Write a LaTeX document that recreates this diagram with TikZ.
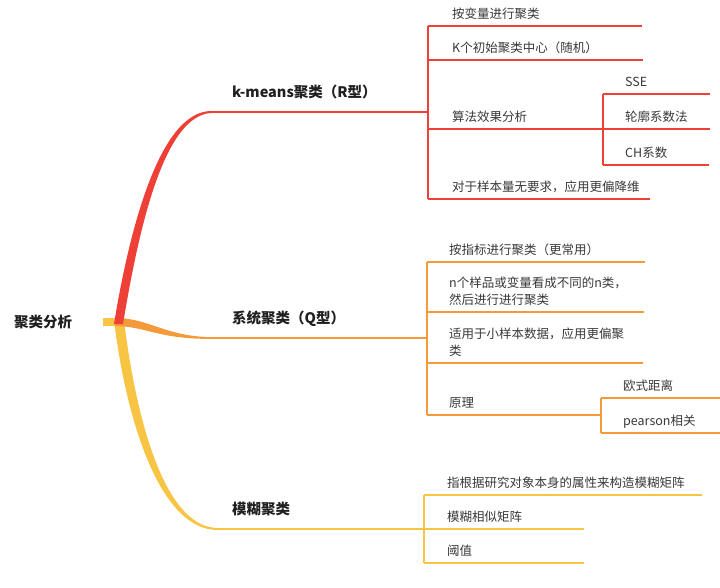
\documentclass[tikz,border=0pt]{standalone}
\usepackage{fontspec}
\setmainfont{Noto Sans CJK SC}
\usetikzlibrary{calc}

\definecolor{kred}{HTML}{EE4036}
\definecolor{sorange}{HTML}{F59A3A}
\definecolor{fyellow}{HTML}{F8C443}
\definecolor{leaftxt}{HTML}{383838}

\begin{document}
\begin{tikzpicture}[x=1pt, y=-1pt,
  leaf/.style={anchor=south west, inner xsep=0pt, inner ysep=6.2pt, text depth=1.5pt,
    align=left, text=leaftxt, font=\fontsize{12.5}{17}\selectfont},
  topic/.style={anchor=south west, inner xsep=0pt, inner ysep=12.5pt, text depth=2pt,
    text=black!88, font=\fontsize{14.5}{17}\selectfont\bfseries},
  kline/.style={draw=kred, line width=1.8pt},
  sline/.style={draw=sorange, line width=1.8pt},
  fline/.style={draw=fyellow, line width=1.8pt}]
\useasboundingbox (0,0) rectangle (720,588);

% Root and main topics
\node[anchor=west, inner sep=0pt, text=black!88, font=\fontsize{14.5}{17}\selectfont\bfseries] (root) at (14,322) {聚类分析};
\coordinate (hub) at (119,322);
\node[topic] (km) at (232,112) {k-means聚类（R型）};
\node[topic] (sys) at (232,338) {系统聚类（Q型）};
\node[topic] (fz) at (232,529) {模糊聚类};
\coordinate (km-s) at (212,112);
\coordinate (sys-s) at (215,338);
\coordinate (fz-s) at (218,529);

% Tapered branches from the root
\fill[fyellow] ($(hub)+(-16,-4)$) rectangle ($(hub)+(1,4)$);
\fill[fyellow] ($(hub)+(-5,-2)$) .. controls +(12,100) and +(-58,0.5) .. ($(fz-s)+(0,1)$)
  -- ($(fz-s)+(0,-1)$) .. controls +(-53,0) and +(12,100) .. ($(hub)+(5,-2)$) -- cycle;
\fill[sorange] ($(hub)+(-4,-4)$) .. controls +(35,0) and +(-50,0) .. ($(sys-s)+(0,-0.8)$)
  -- ($(sys-s)+(0,0.8)$) .. controls +(-55,1.2) and +(30,0) .. ($(hub)+(-4,4)$) -- cycle;
\fill[kred] ($(hub)+(-5,2)$) .. controls +(14,-86) and +(-54,-1) .. ($(km-s)+(0,-1)$)
  -- ($(km-s)+(0,1)$) .. controls +(-50,1) and +(14,-84) .. ($(hub)+(4,2)$) -- cycle;

% Chart 1: k-means
\foreach \nm/\y/\xr/\txt in {k1/26/642/按变量进行聚类, k2/60/643/K个初始聚类中心（随机）, k3/129/602/算法效果分析, k4/199/650/对于样本量无要求，应用更偏降维} {
  \coordinate (\nm-l) at (428,\y);
  \coordinate (\nm-r) at (\xr,\y);
  \node[leaf] (\nm) at (452,\y) {\txt};
  \draw[kline] (\nm-l) -- (\nm-r);
}
\draw[kline] (k1-l) -- (k4-l);
\draw[kline] (km-s) -- (km-s -| k1-l);
\foreach \nm/\y/\xr/\txt in {k31/94/710/SSE, k32/129/710/轮廓系数法, k33/165/709/CH系数} {
  \coordinate (\nm-l) at (603,\y);
  \coordinate (\nm-r) at (\xr,\y);
  \node[leaf] (\nm) at (625,\y) {\txt};
  \draw[kline] (\nm-l) -- (\nm-r);
}
\draw[kline] (k31-l) -- (k33-l);

% Chart 2: hierarchical
\foreach \nm/\y/\xr/\txt in {s1/262/645/按指标进行聚类（更常用）, s2/312/644/{n个样品或变量看成不同的n类，\\然后进行进行聚类}, s3/363/643/{适用于小样本数据，应用更偏聚\\类}, s4/415/600/原理} {
  \coordinate (\nm-l) at (427,\y);
  \coordinate (\nm-r) at (\xr,\y);
  \node[leaf] (\nm) at (449,\y) {\txt};
  \draw[sline] (\nm-l) -- (\nm-r);
}
\draw[sline] (s1-l) -- (s4-l);
\draw[sline] (sys-s) -- (sys-s -| s1-l);
\foreach \nm/\y/\xr/\txt in {s41/398/720/欧式距离, s42/433/720/pearson相关} {
  \coordinate (\nm-l) at (601,\y);
  \coordinate (\nm-r) at (\xr,\y);
  \node[leaf] (\nm) at (623,\y) {\txt};
  \draw[sline] (\nm-l) -- (\nm-r);
}
\draw[sline] (s41-l) -- (s42-l);

% Chart 3: fuzzy
\foreach \nm/\y/\xr/\txt in {f1/495/702/指根据研究对象本身的属性来构造模糊矩阵, f2/529/584/模糊相似矩阵, f3/563/584/阈值} {
  \coordinate (\nm-l) at (424,\y);
  \coordinate (\nm-r) at (\xr,\y);
  \node[leaf] (\nm) at (447,\y) {\txt};
  \draw[fline] (\nm-l) -- (\nm-r);
}
\draw[fline] (f1-l) -- (f3-l);
\draw[fline] (fz-s) -- (fz-s -| f1-l);

\end{tikzpicture}
\end{document}
